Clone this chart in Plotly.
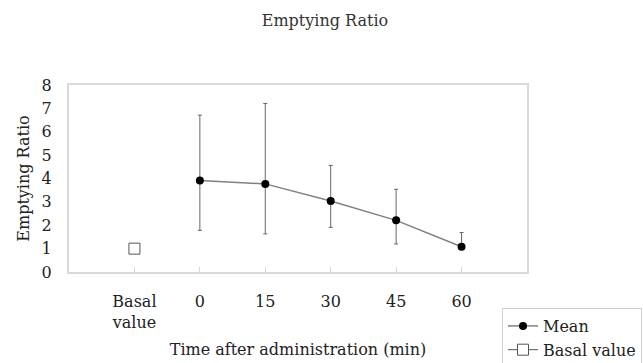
import plotly.graph_objects as go

categories = ["Basal<br>value", "0", "15", "30", "45", "60"]
mean_times = ["0", "15", "30", "45", "60"]
mean_values = [3.91, 3.77, 3.04, 2.21, 1.08]
err_plus = [2.80, 3.44, 1.52, 1.33, 0.61]
err_minus = [2.13, 2.14, 1.13, 1.01, 0.0]
basal_value = [1.0]
y_ticks = [0, 1, 2, 3, 4, 5, 6, 7, 8]

pos = {c: i for i, c in enumerate(categories)}
FONT = "DejaVu Serif"

fig = go.Figure()
fig.add_trace(go.Scatter(
    x=[pos[t] for t in mean_times], y=mean_values,
    mode="lines+markers", name="Mean",
    line=dict(color="#808080", width=1.5),
    marker=dict(color="black", size=8, symbol="circle"),
    error_y=dict(type="data", symmetric=False, array=err_plus, arrayminus=err_minus,
                 color="#666666", thickness=1, width=2),
))
fig.add_trace(go.Scatter(
    x=[pos["Basal<br>value"]], y=basal_value,
    mode="lines+markers", name="Basal value",
    line=dict(color="#555555", width=1),
    marker=dict(color="white", size=11, symbol="square",
                line=dict(color="#555555", width=1)),
))

fig.update_layout(
    width=643, height=363,
    margin=dict(l=69, r=116, t=85, b=91, autoexpand=False),
    paper_bgcolor="white", plot_bgcolor="white",
    font=dict(family=FONT, size=16, color="#222222"),
    title=dict(text="Emptying Ratio", x=325 / 643, xref="container", xanchor="center",
               y=1 - 20 / 363, yanchor="middle", yref="container",
               font=dict(family=FONT, size=16, color="#333333")),
    showlegend=True,
    legend=dict(xref="container", yref="container", x=502 / 643, y=1 - 308 / 363,
                xanchor="left", yanchor="top", bordercolor="#d0d0d0", borderwidth=1,
                bgcolor="white", font=dict(family=FONT, size=16, color="#222222"),
                itemwidth=30, tracegroupgap=0),
    xaxis=dict(
        range=[-1, 6], tickmode="array",
        tickvals=list(range(len(categories))), ticktext=categories,
        ticks="inside", ticklen=5, tickcolor="#d9d9d9", tickwidth=1,
        showline=True, linecolor="#d9d9d9", linewidth=2, mirror=True,
        showgrid=False, zeroline=False, ticklabelstandoff=14,
        title=dict(text="Time after administration (min)", standoff=13,
                   font=dict(family=FONT, size=16, color="#222222")),
    ),
    yaxis=dict(
        range=[0, 8], tickmode="array", tickvals=y_ticks,
        ticks="", showline=True, linecolor="#d9d9d9", linewidth=2, mirror=True,
        showgrid=False, zeroline=False, ticklabelstandoff=12,
        title=dict(text="Emptying Ratio", standoff=8,
                   font=dict(family=FONT, size=16, color="#222222")),
    ),
)

fig.write_html("out.html", config={"displayModeBar": False},
               post_script="document.body.style.margin='0';document.body.style.overflow='hidden';")
